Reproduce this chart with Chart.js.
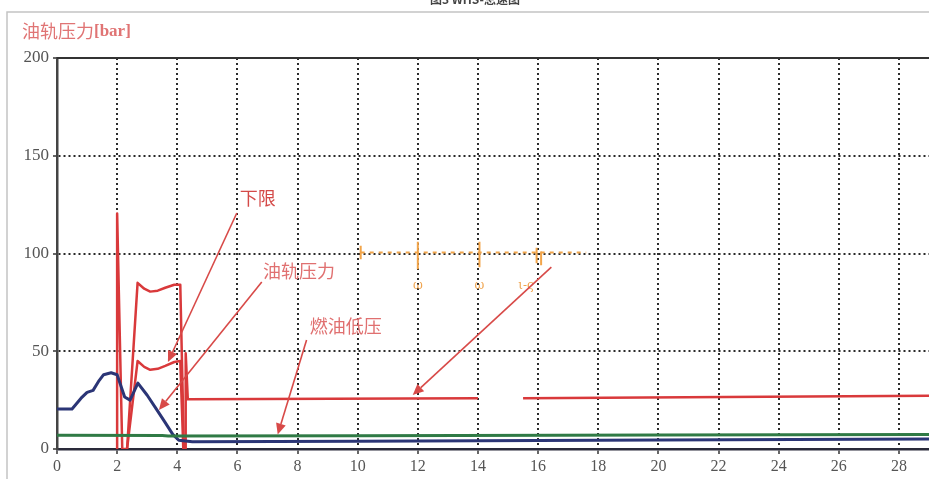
<!DOCTYPE html>
<html><head><meta charset="utf-8">
<script src="https://cdn.jsdelivr.net/npm/chart.js@4.4.1/dist/chart.umd.min.js"></script>
<style>html,body{margin:0;padding:0;background:#fff;}#wrap{width:929px;height:479px;position:relative;}</style>
</head><body><div id="wrap"><canvas id="c" width="929" height="479"></canvas></div>
<script>
// ---- data ----
const xTicks = [0,2,4,6,8,10,12,14,16,18,20,22,24,26,28];
const yTicks = [0,50,100,150,200];

const upperT = [2.0, 2.0, 2.17, 2.33, 2.68, 2.9, 3.1, 3.35, 3.6, 3.9, 4.1, 4.22];
const upperV = [0, 120.5, 0, 0, 85, 82, 80.5, 81, 82.5, 84, 84, 0];

const lowerT = [2.33, 2.68, 2.9, 3.1, 3.35, 3.6, 3.9, 4.1, 4.2, 4.28, 4.28, 4.35, 14.0, 14.5, 15.5, 29];
const lowerV = [0, 45, 42, 40.5, 41, 42.5, 44.5, 45, 0, 0, 49, 25.5, 26, null, 26, 27.3];

const railT = [0, 0.5, 0.8, 1.0, 1.2, 1.4, 1.55, 1.8, 2.0, 2.25, 2.43, 2.69, 3.0, 3.3, 3.6, 3.85, 4.05, 4.5, 10, 20, 29];
const railV = [20.5, 20.5, 26, 29, 30, 35, 38, 39, 38, 26.6, 25, 33.7, 27.5, 20.5, 13.5, 7.5, 4.5, 3.7, 4.0, 4.6, 5.1];

const fuelT = [0, 3.5, 3.7, 10, 20, 29];
const fuelV = [7.0, 6.9, 6.6, 6.8, 7.2, 7.4];

// handwritten orange note (dashed line + vertical strokes)
const noteT = [10.1, 17.6];
const noteV = [100.5, 100.5];
const markT = [10.1, 10.1, 10.1, 12.0, 12.0, 12.0, 14.05, 14.05, 14.05, 15.95, 15.95, 15.95, 16.1, 16.1];
const markV = [97, 104, null, 92, 106, null, 93, 106, null, 95, 103, null, 94, 101];
const markText = ['ω', 'ω', 'ι-ς'];
const markTextT = [12.0, 14.05, 15.6];
const markTextV = [83.5, 83.5, 83.5];

const labelText = ['下限', '油轨压力', '燃油低压'];
const labelT = [6.68, 8.05, 9.6];
const labelV = [128.5, 91, 63];

const arrowFromT = [5.98, 6.81, 8.3, 16.44];
const arrowFromV = [120.7, 85.4, 55.8, 93];
const arrowToT = [3.69, 3.39, 7.34, 11.83];
const arrowToV = [44.5, 20, 7.4, 27.6];

const yTitle = '油轨压力';
const yUnit = '[bar]';
const figTitle = '图3 WHS-怠速图';

const pts = (t, v) => t.map((x, i) => ({x: x, y: v[i]}));

const decor = {
  id: 'decor',
  beforeDraw(chart) {
    const ctx = chart.ctx;
    ctx.save();
    ctx.fillStyle = '#fff';
    ctx.fillRect(0, 0, chart.width, chart.height);
    ctx.strokeStyle = '#c4c4c4';
    ctx.lineWidth = 1.5;
    ctx.beginPath();
    ctx.moveTo(7, chart.height); ctx.lineTo(7, 12); ctx.lineTo(chart.width, 12);
    ctx.stroke();
    ctx.fillStyle = '#444';
    ctx.font = 'bold 12px "Noto Sans CJK SC", sans-serif';
    ctx.textAlign = 'center';
    ctx.textBaseline = 'bottom';
    ctx.fillText(figTitle, 475, 5);
    // y title
    ctx.textAlign = 'left';
    ctx.textBaseline = 'middle';
    ctx.fillStyle = '#e07474';
    ctx.font = '18px "Noto Sans CJK SC", sans-serif';
    ctx.fillText(yTitle, 22, 31);
    const w = ctx.measureText(yTitle).width;
    ctx.font = 'bold 17px "Liberation Serif", serif';
    ctx.fillText(yUnit, 22 + w, 32);
    ctx.restore();
  },
  afterDatasetsDraw(chart) {
    const ctx = chart.ctx, xs = chart.scales.x, ys = chart.scales.y;
    const a = chart.chartArea;
    ctx.save();
    // top border
    ctx.strokeStyle = '#333';
    ctx.lineWidth = 2;
    ctx.beginPath(); ctx.moveTo(a.left, a.top); ctx.lineTo(a.right, a.top); ctx.stroke();
    // note scribbles
    ctx.fillStyle = '#f0a550';
    ctx.font = '12px "DejaVu Serif", serif';
    ctx.textAlign = 'center';
    ctx.textBaseline = 'middle';
    markText.forEach((s, i) => ctx.fillText(s, xs.getPixelForValue(markTextT[i]), ys.getPixelForValue(markTextV[i])));
    // arrows
    ctx.strokeStyle = '#d84a48';
    ctx.fillStyle = '#d84a48';
    ctx.lineWidth = 1.6;
    arrowFromT.forEach((t, i) => {
      const x1 = xs.getPixelForValue(t), y1 = ys.getPixelForValue(arrowFromV[i]);
      const x2 = xs.getPixelForValue(arrowToT[i]), y2 = ys.getPixelForValue(arrowToV[i]);
      const ang = Math.atan2(y2 - y1, x2 - x1);
      const L = 11, W = 5;
      const bx = x2 - L * Math.cos(ang), by = y2 - L * Math.sin(ang);
      ctx.beginPath(); ctx.moveTo(x1, y1); ctx.lineTo(bx, by); ctx.stroke();
      ctx.beginPath();
      ctx.moveTo(x2, y2);
      ctx.lineTo(bx + W * Math.sin(ang), by - W * Math.cos(ang));
      ctx.lineTo(bx - W * Math.sin(ang), by + W * Math.cos(ang));
      ctx.closePath(); ctx.fill();
    });
    // labels
    ctx.font = '18px "Noto Sans CJK SC", sans-serif';
    labelText.forEach((s, i) => {
      ctx.fillStyle = i === 0 ? '#d44a48' : '#e07070';
      ctx.fillText(s, xs.getPixelForValue(labelT[i]), ys.getPixelForValue(labelV[i]));
    });
    ctx.restore();
  }
};

new Chart(document.getElementById('c'), {
  type: 'line',
  data: {
    datasets: [
      {label: '燃油低压', data: pts(fuelT, fuelV), borderColor: '#2f7a45', borderWidth: 3},
      {label: '油轨压力', data: pts(railT, railV), borderColor: '#2b3576', borderWidth: 3},
      {label: '上限', data: pts(upperT, upperV), borderColor: '#d9393b', borderWidth: 2.5},
      {label: '下限', data: pts(lowerT, lowerV), borderColor: '#d9393b', borderWidth: 2.5},
      {label: 'note', data: pts(noteT, noteV), borderColor: '#f2a54a', borderWidth: 2, borderDash: [4, 5]},
      {label: 'marks', data: pts(markT, markV), borderColor: '#f2a54a', borderWidth: 2}
    ]
  },
  options: {
    responsive: false,
    animation: false,
    spanGaps: false,
    elements: {point: {radius: 0}, line: {tension: 0, borderJoinStyle: 'round'}},
    layout: {padding: {top: 58, right: 0, left: 0, bottom: 0}},
    plugins: {legend: {display: false}, tooltip: {enabled: false}, title: {display: false}},
    scales: {
      x: {
        type: 'linear', min: 0, max: 29,
        afterBuildTicks: s => { s.ticks = xTicks.map(v => ({value: v})); },
        afterFit: s => { s.height = 30; },
        grid: {color: '#2a2a2a', lineWidth: 2, drawTicks: true, tickLength: 5, tickColor: '#333', tickWidth: 1.5},
        border: {display: true, color: '#2a2a3a', width: 2.5, dash: [2, 3]},
        ticks: {color: '#555', font: {family: '"Liberation Serif", serif', size: 16}, padding: 3, maxRotation: 0}
      },
      y: {
        type: 'linear', min: 0, max: 200,
        afterBuildTicks: s => { s.ticks = yTicks.map(v => ({value: v})); },
        afterFit: s => { s.width = 57; },
        grid: {color: ctx => (ctx.tick && (ctx.tick.value === 0 || ctx.tick.value === 200)) ? 'rgba(0,0,0,0)' : '#2a2a2a', lineWidth: 2, drawTicks: true, tickLength: 4, tickColor: '#333', tickWidth: 1.5},
        border: {display: true, color: '#444', width: 2.5, dash: [2, 3]},
        ticks: {color: '#555', font: {family: '"Liberation Serif", serif', size: 17}, padding: 4}
      }
    }
  },
  plugins: [decor]
});
</script></body></html>
